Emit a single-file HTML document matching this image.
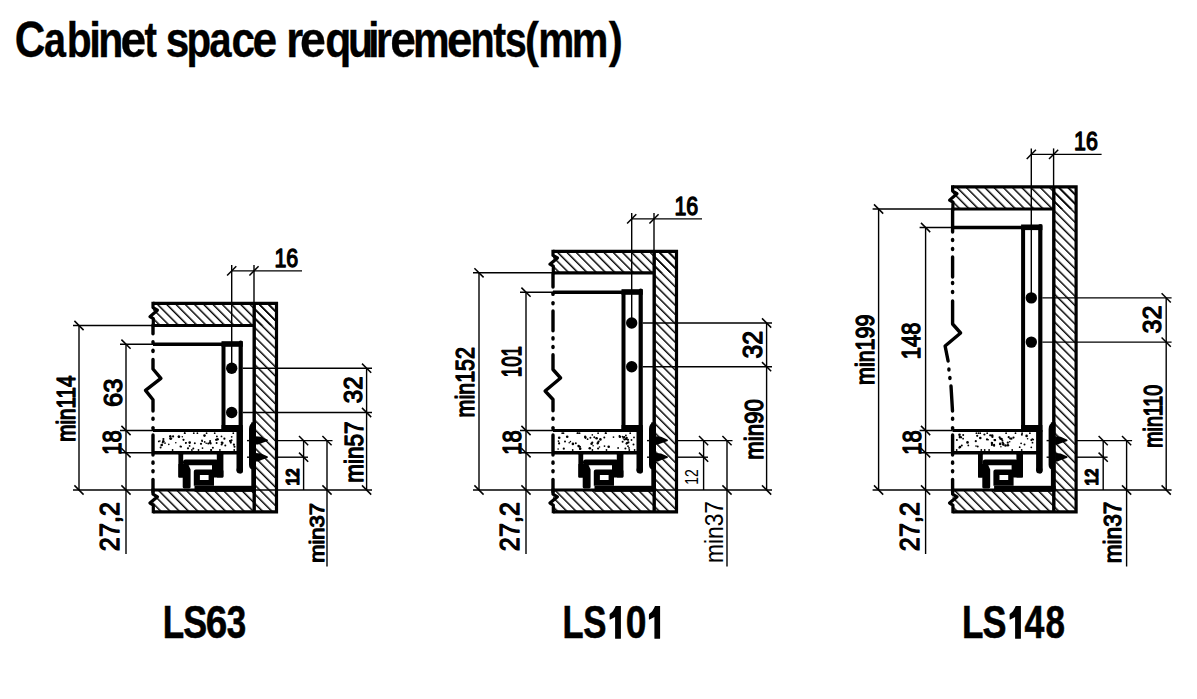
<!DOCTYPE html>
<html><head><meta charset="utf-8"><style>
html,body{margin:0;padding:0;background:#fff;width:1197px;height:699px;overflow:hidden}
svg{display:block}
text{font-family:"Liberation Sans",sans-serif;font-size:100px;fill:#000}
</style></head><body>
<svg width="1197" height="699" viewBox="0 0 1197 699">
<defs>
<pattern id="hatch0" patternUnits="userSpaceOnUse" width="20" height="6.54" patternTransform="translate(0,0) rotate(45)"><rect x="0" y="5.1" width="20" height="1.55" fill="#000"/></pattern><pattern id="hatch1" patternUnits="userSpaceOnUse" width="20" height="6.54" patternTransform="translate(-1.0,0) rotate(45)"><rect x="0" y="5.1" width="20" height="1.55" fill="#000"/></pattern><pattern id="hatch2" patternUnits="userSpaceOnUse" width="20" height="6.54" patternTransform="translate(0.8,0) rotate(45)"><rect x="0" y="5.1" width="20" height="1.55" fill="#000"/></pattern>
</defs>
<rect width="1197" height="699" fill="#fff"/>
<g stroke="#000" fill="#000">
<rect x="153" y="303.3" width="123.5" height="22.19999999999999" fill="url(#hatch0)" stroke="none"/>
<rect x="254.2" y="303.3" width="22.30000000000001" height="208.5" fill="url(#hatch0)" stroke="none"/>
<rect x="153" y="490" width="101.19999999999999" height="21.8" fill="url(#hatch0)" stroke="none"/>
<path d="M153 303.3 H276.5 V511.8 H153" fill="none" stroke-width="3.2" stroke-linecap="butt" stroke-linejoin="miter"/>
<line x1="254.2" y1="303.3" x2="254.2" y2="511.8" stroke-width="3.4" stroke-linecap="butt"/>
<line x1="153" y1="325.5" x2="254.2" y2="325.5" stroke-width="3.2" stroke-linecap="butt"/>
<line x1="153" y1="490" x2="254.2" y2="490" stroke-width="3.2" stroke-linecap="butt"/>
<path d="M153 301.8 V307.51800000000003 L157.4 310.182 L150.0 316.62 L153.3 318.618 V327.0" fill="none" stroke-width="3.2" stroke-linecap="butt" stroke-linejoin="round"/>
<path d="M153 488.5 V494.142 L157.4 496.758 L150.0 503.08 L153.3 505.04200000000003 V513.3" fill="none" stroke-width="3.2" stroke-linecap="butt" stroke-linejoin="round"/>
<path d="M153 325 V333.7" fill="none" stroke-width="3.4" stroke-linecap="round" stroke-linejoin="miter"/>
<path d="M153 359.5 V369 L160.9 378.4 L145.5 390.4 L153 399.8 V411" fill="none" stroke-width="3.4" stroke-linecap="round" stroke-linejoin="round"/>
<path d="M153 435 V455" fill="none" stroke-width="3.4" stroke-linecap="round" stroke-linejoin="miter"/>
<path d="M153 479.4 V492" fill="none" stroke-width="3.4" stroke-linecap="round" stroke-linejoin="miter"/>
<path d="M153 341.7 V342.90000000000003" fill="none" stroke-width="3.4" stroke-linecap="round" stroke-linejoin="miter"/>
<path d="M153 350.29999999999995 V351.5" fill="none" stroke-width="3.4" stroke-linecap="round" stroke-linejoin="miter"/>
<path d="M153 418.09999999999997 V419.3" fill="none" stroke-width="3.4" stroke-linecap="round" stroke-linejoin="miter"/>
<path d="M153 427.59999999999997 V428.8" fill="none" stroke-width="3.4" stroke-linecap="round" stroke-linejoin="miter"/>
<path d="M153 462.0 V463.20000000000005" fill="none" stroke-width="3.4" stroke-linecap="round" stroke-linejoin="miter"/>
<path d="M153 470.59999999999997 V471.8" fill="none" stroke-width="3.4" stroke-linecap="round" stroke-linejoin="miter"/>
<line x1="153" y1="344.2" x2="223.5" y2="344.2" stroke-width="3.4" stroke-linecap="butt"/>
<line x1="223.5" y1="342.7" x2="223.5" y2="431" stroke-width="4" stroke-linecap="butt"/>
<path d="M240.7 342.7 V471.5" fill="none" stroke-width="4.2" stroke-linecap="round" stroke-linejoin="miter"/>
<rect x="221.5" y="341.2" width="21.29999999999999" height="5.6" fill="#000" stroke="none"/>
<rect x="221.5" y="425" width="21.29999999999999" height="7" fill="#000" stroke="none"/>
<circle cx="231.7" cy="368.2" r="5.7" stroke="none"/>
<circle cx="231.7" cy="412.5" r="5.7" stroke="none"/>
<line x1="153" y1="430.5" x2="240.7" y2="430.5" stroke-width="3.2" stroke-linecap="butt"/>
<line x1="153" y1="452.8" x2="240.7" y2="452.8" stroke-width="3.4" stroke-linecap="butt"/>
<rect x="236.5" y="430" width="6.4" height="40.5" fill="#000" stroke="none"/>
<circle cx="239.7" cy="470.3" r="3.2" stroke="none"/>
<rect x="178.4" y="453" width="4.8" height="24.6" rx="1.2" stroke="none"/>
<path stroke="none" d="M178.4 464 H188.1 L190.6 469.5 V487 Q190.6 488.4 189.2 488.4 H184.1 Q182.7 488.4 182.7 487 V477.6 H179.6 Q178.4 477.6 178.4 476.4 Z"/>
<rect x="216.8" y="453" width="6.6" height="24.6" rx="1.2" stroke="none"/>
<rect x="212.7" y="469.5" width="10.7" height="8.1" rx="1.5" stroke="none"/>
<rect x="183.0" y="459.4" width="35.5" height="5.8" rx="2.5" stroke="none"/>
<rect x="212.0" y="463.0" width="6.5" height="8.0" rx="0" stroke="none"/>
<path fill-rule="evenodd" stroke="none" d="M193.8 471.5 Q193.8 469.5 195.8 469.5 H212 Q214 469.5 214 471.5 V485.7 H193.8 Z M199.9 474.9 V480 H208.6 V474.9 Z"/>
<rect x="194.5" y="485.8" width="61.5" height="6.0" fill="#000" stroke="none"/>
<rect x="251.3" y="422.3" width="4.7" height="68" fill="#000" stroke="none"/>
<path d="M254 422.3 Q249 423.5 249 429 V465 Q249 469.5 254 469.8 Z" stroke="none"/>
<path d="M255.5 436.2 L261 436.79999999999995 L267.8 439.79999999999995 L267.8 441.0 L262 443.0 L258 444.59999999999997 L255.5 444.59999999999997 Z" stroke="none"/>
<path d="M255.5 453.0 L261 453.59999999999997 L267.8 456.59999999999997 L267.8 457.8 L262 459.8 L258 461.4 L255.5 461.4 Z" stroke="none"/>
<line x1="231.7" y1="264.90000000000003" x2="231.7" y2="368.2" stroke-width="1.4" stroke-linecap="butt"/>
<line x1="254.0" y1="264.90000000000003" x2="254.0" y2="303.3" stroke-width="1.4" stroke-linecap="butt"/>
<line x1="231.7" y1="270.90000000000003" x2="302" y2="270.90000000000003" stroke-width="1.4" stroke-linecap="butt"/>
<line x1="227.1" y1="275.50000000000006" x2="236.29999999999998" y2="266.3" stroke-width="1.5" stroke-linecap="butt"/>
<line x1="249.4" y1="275.50000000000006" x2="258.6" y2="266.3" stroke-width="1.5" stroke-linecap="butt"/>
<line x1="73" y1="325.5" x2="153" y2="325.5" stroke-width="1.4" stroke-linecap="butt"/>
<line x1="120" y1="344.2" x2="153" y2="344.2" stroke-width="1.4" stroke-linecap="butt"/>
<line x1="120" y1="430.5" x2="153" y2="430.5" stroke-width="1.4" stroke-linecap="butt"/>
<line x1="120" y1="452.8" x2="153" y2="452.8" stroke-width="1.4" stroke-linecap="butt"/>
<line x1="73" y1="490" x2="153" y2="490" stroke-width="1.4" stroke-linecap="butt"/>
<line x1="79" y1="325.5" x2="79" y2="490" stroke-width="1.4" stroke-linecap="butt"/>
<line x1="126" y1="344.2" x2="126" y2="554" stroke-width="1.4" stroke-linecap="butt"/>
<line x1="74.4" y1="320.9" x2="83.6" y2="330.1" stroke-width="1.5" stroke-linecap="butt"/>
<line x1="74.4" y1="485.4" x2="83.6" y2="494.6" stroke-width="1.5" stroke-linecap="butt"/>
<line x1="121.4" y1="339.59999999999997" x2="130.6" y2="348.8" stroke-width="1.5" stroke-linecap="butt"/>
<line x1="121.4" y1="425.9" x2="130.6" y2="435.1" stroke-width="1.5" stroke-linecap="butt"/>
<line x1="121.4" y1="448.2" x2="130.6" y2="457.40000000000003" stroke-width="1.5" stroke-linecap="butt"/>
<line x1="121.4" y1="485.4" x2="130.6" y2="494.6" stroke-width="1.5" stroke-linecap="butt"/>
<line x1="242.7" y1="368.2" x2="372" y2="368.2" stroke-width="1.4" stroke-linecap="butt"/>
<line x1="362.0" y1="363.59999999999997" x2="371.20000000000005" y2="372.8" stroke-width="1.5" stroke-linecap="butt"/>
<line x1="242.7" y1="412.5" x2="372" y2="412.5" stroke-width="1.4" stroke-linecap="butt"/>
<line x1="362.0" y1="407.9" x2="371.20000000000005" y2="417.1" stroke-width="1.5" stroke-linecap="butt"/>
<line x1="366.6" y1="368.2" x2="366.6" y2="490" stroke-width="1.4" stroke-linecap="butt"/>
<line x1="362.0" y1="485.4" x2="371.20000000000005" y2="494.6" stroke-width="1.5" stroke-linecap="butt"/>
<line x1="247" y1="440.6" x2="256" y2="440.6" stroke-width="1.4" stroke-linecap="butt"/>
<line x1="247" y1="457.2" x2="256" y2="457.2" stroke-width="1.4" stroke-linecap="butt"/>
<line x1="276.5" y1="440.6" x2="332.5" y2="440.6" stroke-width="1.4" stroke-linecap="butt"/>
<line x1="276.5" y1="457.2" x2="308" y2="457.2" stroke-width="1.4" stroke-linecap="butt"/>
<line x1="254.2" y1="490" x2="372" y2="490" stroke-width="1.4" stroke-linecap="butt"/>
<line x1="303.6" y1="440.6" x2="303.6" y2="490" stroke-width="1.4" stroke-linecap="butt"/>
<line x1="327" y1="440.6" x2="327" y2="566.5" stroke-width="1.4" stroke-linecap="butt"/>
<line x1="299.0" y1="436.0" x2="308.20000000000005" y2="445.20000000000005" stroke-width="1.5" stroke-linecap="butt"/>
<line x1="299.0" y1="452.59999999999997" x2="308.20000000000005" y2="461.8" stroke-width="1.5" stroke-linecap="butt"/>
<line x1="322.4" y1="436.0" x2="331.6" y2="445.20000000000005" stroke-width="1.5" stroke-linecap="butt"/>
<line x1="322.4" y1="485.4" x2="331.6" y2="494.6" stroke-width="1.5" stroke-linecap="butt"/>
<rect x="553" y="251.3" width="123.5" height="21.5" fill="url(#hatch1)" stroke="none"/>
<rect x="654.2" y="251.3" width="22.299999999999955" height="260.5" fill="url(#hatch1)" stroke="none"/>
<rect x="553" y="490" width="101.20000000000005" height="21.8" fill="url(#hatch1)" stroke="none"/>
<path d="M553 251.3 H676.5 V511.8 H553" fill="none" stroke-width="3.2" stroke-linecap="butt" stroke-linejoin="miter"/>
<line x1="654.2" y1="251.3" x2="654.2" y2="511.8" stroke-width="3.4" stroke-linecap="butt"/>
<line x1="553" y1="272.8" x2="654.2" y2="272.8" stroke-width="3.2" stroke-linecap="butt"/>
<line x1="553" y1="490" x2="654.2" y2="490" stroke-width="3.2" stroke-linecap="butt"/>
<path d="M553 249.8 V255.38500000000002 L557.4 257.96500000000003 L550.0 264.2 L553.3 266.135 V274.3" fill="none" stroke-width="3.2" stroke-linecap="butt" stroke-linejoin="round"/>
<path d="M553 488.5 V494.142 L557.4 496.758 L550.0 503.08 L553.3 505.04200000000003 V513.3" fill="none" stroke-width="3.2" stroke-linecap="butt" stroke-linejoin="round"/>
<path d="M553 274 V287" fill="none" stroke-width="3.4" stroke-linecap="round" stroke-linejoin="miter"/>
<path d="M553 311 V330.7" fill="none" stroke-width="3.4" stroke-linecap="round" stroke-linejoin="miter"/>
<path d="M553 354.7 V369.5 L560.6 378 L545.1 391 L553 399.5 V410.7" fill="none" stroke-width="3.4" stroke-linecap="round" stroke-linejoin="round"/>
<path d="M553 435 V455" fill="none" stroke-width="3.4" stroke-linecap="round" stroke-linejoin="miter"/>
<path d="M553 479.4 V492" fill="none" stroke-width="3.4" stroke-linecap="round" stroke-linejoin="miter"/>
<path d="M553 293.2 V294.40000000000003" fill="none" stroke-width="3.4" stroke-linecap="round" stroke-linejoin="miter"/>
<path d="M553 302.59999999999997 V303.8" fill="none" stroke-width="3.4" stroke-linecap="round" stroke-linejoin="miter"/>
<path d="M553 337.79999999999995 V339.0" fill="none" stroke-width="3.4" stroke-linecap="round" stroke-linejoin="miter"/>
<path d="M553 346.4 V347.6" fill="none" stroke-width="3.4" stroke-linecap="round" stroke-linejoin="miter"/>
<path d="M553 418.09999999999997 V419.3" fill="none" stroke-width="3.4" stroke-linecap="round" stroke-linejoin="miter"/>
<path d="M553 427.59999999999997 V428.8" fill="none" stroke-width="3.4" stroke-linecap="round" stroke-linejoin="miter"/>
<path d="M553 462.0 V463.20000000000005" fill="none" stroke-width="3.4" stroke-linecap="round" stroke-linejoin="miter"/>
<path d="M553 470.59999999999997 V471.8" fill="none" stroke-width="3.4" stroke-linecap="round" stroke-linejoin="miter"/>
<line x1="553" y1="292.2" x2="623.5" y2="292.2" stroke-width="3.4" stroke-linecap="butt"/>
<line x1="623.5" y1="290.7" x2="623.5" y2="431" stroke-width="4" stroke-linecap="butt"/>
<path d="M640.7 290.7 V471.5" fill="none" stroke-width="4.2" stroke-linecap="round" stroke-linejoin="miter"/>
<rect x="621.5" y="289.2" width="21.300000000000047" height="5.6" fill="#000" stroke="none"/>
<rect x="621.5" y="425" width="21.300000000000047" height="7" fill="#000" stroke="none"/>
<circle cx="631.7" cy="323" r="5.7" stroke="none"/>
<circle cx="631.7" cy="366.7" r="5.7" stroke="none"/>
<line x1="553" y1="430.5" x2="640.7" y2="430.5" stroke-width="3.2" stroke-linecap="butt"/>
<line x1="553" y1="452.8" x2="640.7" y2="452.8" stroke-width="3.4" stroke-linecap="butt"/>
<rect x="636.5" y="430" width="6.4" height="40.5" fill="#000" stroke="none"/>
<circle cx="639.7" cy="470.3" r="3.2" stroke="none"/>
<rect x="578.4" y="453" width="4.8" height="24.6" rx="1.2" stroke="none"/>
<path stroke="none" d="M578.4 464 H588.1 L590.6 469.5 V487 Q590.6 488.4 589.2 488.4 H584.1 Q582.7 488.4 582.7 487 V477.6 H579.6 Q578.4 477.6 578.4 476.4 Z"/>
<rect x="616.8" y="453" width="6.6" height="24.6" rx="1.2" stroke="none"/>
<rect x="612.7" y="469.5" width="10.7" height="8.1" rx="1.5" stroke="none"/>
<rect x="583.0" y="459.4" width="35.5" height="5.8" rx="2.5" stroke="none"/>
<rect x="612.0" y="463.0" width="6.5" height="8.0" rx="0" stroke="none"/>
<path fill-rule="evenodd" stroke="none" d="M593.8 471.5 Q593.8 469.5 595.8 469.5 H612 Q614 469.5 614 471.5 V485.7 H593.8 Z M599.9 474.9 V480 H608.6 V474.9 Z"/>
<rect x="594.5" y="485.8" width="61.5" height="6.0" fill="#000" stroke="none"/>
<rect x="651.3" y="422.3" width="4.7" height="68" fill="#000" stroke="none"/>
<path d="M654 422.3 Q649 423.5 649 429 V465 Q649 469.5 654 469.8 Z" stroke="none"/>
<path d="M655.5 436.2 L661 436.79999999999995 L667.8 439.79999999999995 L667.8 441.0 L662 443.0 L658 444.59999999999997 L655.5 444.59999999999997 Z" stroke="none"/>
<path d="M655.5 453.0 L661 453.59999999999997 L667.8 456.59999999999997 L667.8 457.8 L662 459.8 L658 461.4 L655.5 461.4 Z" stroke="none"/>
<line x1="631.7" y1="212.9" x2="631.7" y2="323" stroke-width="1.4" stroke-linecap="butt"/>
<line x1="654.0" y1="212.9" x2="654.0" y2="251.3" stroke-width="1.4" stroke-linecap="butt"/>
<line x1="631.7" y1="218.9" x2="702" y2="218.9" stroke-width="1.4" stroke-linecap="butt"/>
<line x1="627.1" y1="223.5" x2="636.3000000000001" y2="214.3" stroke-width="1.5" stroke-linecap="butt"/>
<line x1="649.4" y1="223.5" x2="658.6" y2="214.3" stroke-width="1.5" stroke-linecap="butt"/>
<line x1="473" y1="272.8" x2="553" y2="272.8" stroke-width="1.4" stroke-linecap="butt"/>
<line x1="520" y1="292.2" x2="553" y2="292.2" stroke-width="1.4" stroke-linecap="butt"/>
<line x1="520" y1="430.5" x2="553" y2="430.5" stroke-width="1.4" stroke-linecap="butt"/>
<line x1="520" y1="452.8" x2="553" y2="452.8" stroke-width="1.4" stroke-linecap="butt"/>
<line x1="473" y1="490" x2="553" y2="490" stroke-width="1.4" stroke-linecap="butt"/>
<line x1="479" y1="272.8" x2="479" y2="490" stroke-width="1.4" stroke-linecap="butt"/>
<line x1="526" y1="292.2" x2="526" y2="554" stroke-width="1.4" stroke-linecap="butt"/>
<line x1="474.4" y1="268.2" x2="483.6" y2="277.40000000000003" stroke-width="1.5" stroke-linecap="butt"/>
<line x1="474.4" y1="485.4" x2="483.6" y2="494.6" stroke-width="1.5" stroke-linecap="butt"/>
<line x1="521.4" y1="287.59999999999997" x2="530.6" y2="296.8" stroke-width="1.5" stroke-linecap="butt"/>
<line x1="521.4" y1="425.9" x2="530.6" y2="435.1" stroke-width="1.5" stroke-linecap="butt"/>
<line x1="521.4" y1="448.2" x2="530.6" y2="457.40000000000003" stroke-width="1.5" stroke-linecap="butt"/>
<line x1="521.4" y1="485.4" x2="530.6" y2="494.6" stroke-width="1.5" stroke-linecap="butt"/>
<line x1="642.7" y1="323" x2="772" y2="323" stroke-width="1.4" stroke-linecap="butt"/>
<line x1="762.0" y1="318.4" x2="771.2" y2="327.6" stroke-width="1.5" stroke-linecap="butt"/>
<line x1="642.7" y1="366.7" x2="772" y2="366.7" stroke-width="1.4" stroke-linecap="butt"/>
<line x1="762.0" y1="362.09999999999997" x2="771.2" y2="371.3" stroke-width="1.5" stroke-linecap="butt"/>
<line x1="766.6" y1="323" x2="766.6" y2="490" stroke-width="1.4" stroke-linecap="butt"/>
<line x1="762.0" y1="485.4" x2="771.2" y2="494.6" stroke-width="1.5" stroke-linecap="butt"/>
<line x1="647" y1="440.6" x2="656" y2="440.6" stroke-width="1.4" stroke-linecap="butt"/>
<line x1="647" y1="457.2" x2="656" y2="457.2" stroke-width="1.4" stroke-linecap="butt"/>
<line x1="676.5" y1="440.6" x2="732.5" y2="440.6" stroke-width="1.4" stroke-linecap="butt"/>
<line x1="676.5" y1="457.2" x2="708" y2="457.2" stroke-width="1.4" stroke-linecap="butt"/>
<line x1="654.2" y1="490" x2="772" y2="490" stroke-width="1.4" stroke-linecap="butt"/>
<line x1="703.6" y1="440.6" x2="703.6" y2="490" stroke-width="1.4" stroke-linecap="butt"/>
<line x1="727" y1="440.6" x2="727" y2="566.5" stroke-width="1.4" stroke-linecap="butt"/>
<line x1="699.0" y1="436.0" x2="708.2" y2="445.20000000000005" stroke-width="1.5" stroke-linecap="butt"/>
<line x1="699.0" y1="452.59999999999997" x2="708.2" y2="461.8" stroke-width="1.5" stroke-linecap="butt"/>
<line x1="722.4" y1="436.0" x2="731.6" y2="445.20000000000005" stroke-width="1.5" stroke-linecap="butt"/>
<line x1="722.4" y1="485.4" x2="731.6" y2="494.6" stroke-width="1.5" stroke-linecap="butt"/>
<rect x="952.6" y="186.8" width="123.49999999999989" height="22.19999999999999" fill="url(#hatch2)" stroke="none"/>
<rect x="1053.8" y="186.8" width="22.299999999999955" height="325.0" fill="url(#hatch2)" stroke="none"/>
<rect x="952.6" y="490" width="101.19999999999993" height="21.8" fill="url(#hatch2)" stroke="none"/>
<path d="M952.6 186.8 H1076.1 V511.8 H952.6" fill="none" stroke-width="3.2" stroke-linecap="butt" stroke-linejoin="miter"/>
<line x1="1053.8" y1="186.8" x2="1053.8" y2="511.8" stroke-width="3.4" stroke-linecap="butt"/>
<line x1="952.6" y1="209" x2="1053.8" y2="209" stroke-width="3.2" stroke-linecap="butt"/>
<line x1="952.6" y1="490" x2="1053.8" y2="490" stroke-width="3.2" stroke-linecap="butt"/>
<path d="M952.6 185.3 V191.018 L957.0 193.68200000000002 L949.6 200.12 L952.9 202.118 V210.5" fill="none" stroke-width="3.2" stroke-linecap="butt" stroke-linejoin="round"/>
<path d="M952.6 488.5 V494.142 L957.0 496.758 L949.6 503.08 L952.9 505.04200000000003 V513.3" fill="none" stroke-width="3.2" stroke-linecap="butt" stroke-linejoin="round"/>
<path d="M952.6 209 V232" fill="none" stroke-width="3.4" stroke-linecap="round" stroke-linejoin="miter"/>
<path d="M952.6 257 V277" fill="none" stroke-width="3.4" stroke-linecap="round" stroke-linejoin="miter"/>
<path d="M952.6 301 V324 L960.6 333 L945.1 346 L948.1 361" fill="none" stroke-width="3.4" stroke-linecap="round" stroke-linejoin="round"/>
<path d="M951 386 L952.5 411" fill="none" stroke-width="3.4" stroke-linecap="round" stroke-linejoin="round"/>
<path d="M952.6 435 V455" fill="none" stroke-width="3.4" stroke-linecap="round" stroke-linejoin="miter"/>
<path d="M952.6 479.4 V492" fill="none" stroke-width="3.4" stroke-linecap="round" stroke-linejoin="miter"/>
<path d="M952.6 239.4 V240.6" fill="none" stroke-width="3.4" stroke-linecap="round" stroke-linejoin="miter"/>
<path d="M952.6 248.4 V249.6" fill="none" stroke-width="3.4" stroke-linecap="round" stroke-linejoin="miter"/>
<path d="M952.6 282.4 V283.6" fill="none" stroke-width="3.4" stroke-linecap="round" stroke-linejoin="miter"/>
<path d="M952.6 291.4 V292.6" fill="none" stroke-width="3.4" stroke-linecap="round" stroke-linejoin="miter"/>
<path d="M948.9 368.9 V370.1" fill="none" stroke-width="3.4" stroke-linecap="round" stroke-linejoin="miter"/>
<path d="M949.9 377.4 V378.6" fill="none" stroke-width="3.4" stroke-linecap="round" stroke-linejoin="miter"/>
<path d="M952.6 418.09999999999997 V419.3" fill="none" stroke-width="3.4" stroke-linecap="round" stroke-linejoin="miter"/>
<path d="M952.6 427.59999999999997 V428.8" fill="none" stroke-width="3.4" stroke-linecap="round" stroke-linejoin="miter"/>
<path d="M952.6 462.0 V463.20000000000005" fill="none" stroke-width="3.4" stroke-linecap="round" stroke-linejoin="miter"/>
<path d="M952.6 470.59999999999997 V471.8" fill="none" stroke-width="3.4" stroke-linecap="round" stroke-linejoin="miter"/>
<line x1="952.6" y1="227.5" x2="1023.1" y2="227.5" stroke-width="3.4" stroke-linecap="butt"/>
<line x1="1023.1" y1="226.0" x2="1023.1" y2="431" stroke-width="4" stroke-linecap="butt"/>
<path d="M1040.3 226.0 V471.5" fill="none" stroke-width="4.2" stroke-linecap="round" stroke-linejoin="miter"/>
<rect x="1021.1" y="224.5" width="21.299999999999933" height="5.6" fill="#000" stroke="none"/>
<rect x="1021.1" y="425" width="21.299999999999933" height="7" fill="#000" stroke="none"/>
<circle cx="1031.3" cy="297.9" r="5.7" stroke="none"/>
<circle cx="1031.3" cy="342.1" r="5.7" stroke="none"/>
<line x1="952.6" y1="430.5" x2="1040.3" y2="430.5" stroke-width="3.2" stroke-linecap="butt"/>
<line x1="952.6" y1="452.8" x2="1040.3" y2="452.8" stroke-width="3.4" stroke-linecap="butt"/>
<rect x="1036.1" y="430" width="6.4" height="40.5" fill="#000" stroke="none"/>
<circle cx="1039.3" cy="470.3" r="3.2" stroke="none"/>
<rect x="978.0" y="453" width="4.8" height="24.6" rx="1.2" stroke="none"/>
<path stroke="none" d="M978.0 464 H987.7 L990.2 469.5 V487 Q990.2 488.4 988.8 488.4 H983.7 Q982.3 488.4 982.3 487 V477.6 H979.2 Q978.0 477.6 978.0 476.4 Z"/>
<rect x="1016.4" y="453" width="6.6" height="24.6" rx="1.2" stroke="none"/>
<rect x="1012.3" y="469.5" width="10.7" height="8.1" rx="1.5" stroke="none"/>
<rect x="982.6" y="459.4" width="35.5" height="5.8" rx="2.5" stroke="none"/>
<rect x="1011.6" y="463.0" width="6.5" height="8.0" rx="0" stroke="none"/>
<path fill-rule="evenodd" stroke="none" d="M993.4 471.5 Q993.4 469.5 995.4 469.5 H1011.6 Q1013.6 469.5 1013.6 471.5 V485.7 H993.4 Z M999.5 474.9 V480 H1008.2 V474.9 Z"/>
<rect x="994.1" y="485.8" width="61.499999999999886" height="6.0" fill="#000" stroke="none"/>
<rect x="1050.9" y="422.3" width="4.7" height="68" fill="#000" stroke="none"/>
<path d="M1053.6 422.3 Q1048.6 423.5 1048.6 429 V465 Q1048.6 469.5 1053.6 469.8 Z" stroke="none"/>
<path d="M1055.1 436.2 L1060.6 436.79999999999995 L1067.4 439.79999999999995 L1067.4 441.0 L1061.6 443.0 L1057.6 444.59999999999997 L1055.1 444.59999999999997 Z" stroke="none"/>
<path d="M1055.1 453.0 L1060.6 453.59999999999997 L1067.4 456.59999999999997 L1067.4 457.8 L1061.6 459.8 L1057.6 461.4 L1055.1 461.4 Z" stroke="none"/>
<line x1="1031.3" y1="148.4" x2="1031.3" y2="297.9" stroke-width="1.4" stroke-linecap="butt"/>
<line x1="1053.6" y1="148.4" x2="1053.6" y2="186.8" stroke-width="1.4" stroke-linecap="butt"/>
<line x1="1031.3" y1="154.4" x2="1101.6" y2="154.4" stroke-width="1.4" stroke-linecap="butt"/>
<line x1="1026.7" y1="159.0" x2="1035.8999999999999" y2="149.8" stroke-width="1.5" stroke-linecap="butt"/>
<line x1="1049.0" y1="159.0" x2="1058.1999999999998" y2="149.8" stroke-width="1.5" stroke-linecap="butt"/>
<line x1="872.6" y1="209" x2="952.6" y2="209" stroke-width="1.4" stroke-linecap="butt"/>
<line x1="919.6" y1="227.5" x2="952.6" y2="227.5" stroke-width="1.4" stroke-linecap="butt"/>
<line x1="919.6" y1="430.5" x2="952.6" y2="430.5" stroke-width="1.4" stroke-linecap="butt"/>
<line x1="919.6" y1="452.8" x2="952.6" y2="452.8" stroke-width="1.4" stroke-linecap="butt"/>
<line x1="872.6" y1="490" x2="952.6" y2="490" stroke-width="1.4" stroke-linecap="butt"/>
<line x1="878.6" y1="209" x2="878.6" y2="490" stroke-width="1.4" stroke-linecap="butt"/>
<line x1="925.6" y1="227.5" x2="925.6" y2="554" stroke-width="1.4" stroke-linecap="butt"/>
<line x1="874.0" y1="204.4" x2="883.2" y2="213.6" stroke-width="1.5" stroke-linecap="butt"/>
<line x1="874.0" y1="485.4" x2="883.2" y2="494.6" stroke-width="1.5" stroke-linecap="butt"/>
<line x1="921.0" y1="222.9" x2="930.2" y2="232.1" stroke-width="1.5" stroke-linecap="butt"/>
<line x1="921.0" y1="425.9" x2="930.2" y2="435.1" stroke-width="1.5" stroke-linecap="butt"/>
<line x1="921.0" y1="448.2" x2="930.2" y2="457.40000000000003" stroke-width="1.5" stroke-linecap="butt"/>
<line x1="921.0" y1="485.4" x2="930.2" y2="494.6" stroke-width="1.5" stroke-linecap="butt"/>
<line x1="1042.3" y1="297.9" x2="1171.6" y2="297.9" stroke-width="1.4" stroke-linecap="butt"/>
<line x1="1161.6000000000001" y1="293.29999999999995" x2="1170.8" y2="302.5" stroke-width="1.5" stroke-linecap="butt"/>
<line x1="1042.3" y1="342.1" x2="1171.6" y2="342.1" stroke-width="1.4" stroke-linecap="butt"/>
<line x1="1161.6000000000001" y1="337.5" x2="1170.8" y2="346.70000000000005" stroke-width="1.5" stroke-linecap="butt"/>
<line x1="1166.2" y1="297.9" x2="1166.2" y2="490" stroke-width="1.4" stroke-linecap="butt"/>
<line x1="1161.6000000000001" y1="485.4" x2="1170.8" y2="494.6" stroke-width="1.5" stroke-linecap="butt"/>
<line x1="1046.6" y1="440.6" x2="1055.6" y2="440.6" stroke-width="1.4" stroke-linecap="butt"/>
<line x1="1046.6" y1="457.2" x2="1055.6" y2="457.2" stroke-width="1.4" stroke-linecap="butt"/>
<line x1="1076.1" y1="440.6" x2="1132.1" y2="440.6" stroke-width="1.4" stroke-linecap="butt"/>
<line x1="1076.1" y1="457.2" x2="1107.6" y2="457.2" stroke-width="1.4" stroke-linecap="butt"/>
<line x1="1053.8" y1="490" x2="1171.6" y2="490" stroke-width="1.4" stroke-linecap="butt"/>
<line x1="1103.2" y1="440.6" x2="1103.2" y2="490" stroke-width="1.4" stroke-linecap="butt"/>
<line x1="1126.6" y1="440.6" x2="1126.6" y2="566.5" stroke-width="1.4" stroke-linecap="butt"/>
<line x1="1098.6000000000001" y1="436.0" x2="1107.8" y2="445.20000000000005" stroke-width="1.5" stroke-linecap="butt"/>
<line x1="1098.6000000000001" y1="452.59999999999997" x2="1107.8" y2="461.8" stroke-width="1.5" stroke-linecap="butt"/>
<line x1="1122.0" y1="436.0" x2="1131.1999999999998" y2="445.20000000000005" stroke-width="1.5" stroke-linecap="butt"/>
<line x1="1122.0" y1="485.4" x2="1131.1999999999998" y2="494.6" stroke-width="1.5" stroke-linecap="butt"/>
</g>
<g fill="#000"><circle cx="182.3" cy="436.8" r="0.8"/><circle cx="162.7" cy="442.5" r="1.0"/><circle cx="202.5" cy="448.1" r="0.9"/><circle cx="159.9" cy="441.0" r="0.8"/><circle cx="175.8" cy="442.8" r="0.8"/><circle cx="221.5" cy="436.4" r="0.9"/><circle cx="206.2" cy="443.2" r="0.8"/><circle cx="202.0" cy="440.5" r="0.9"/><circle cx="160.6" cy="447.4" r="1.0"/><circle cx="189.7" cy="442.6" r="1.3"/><circle cx="181.1" cy="446.7" r="0.9"/><circle cx="165.0" cy="443.1" r="0.9"/><circle cx="186.0" cy="442.7" r="0.8"/><circle cx="201.0" cy="443.8" r="1.1"/><circle cx="210.1" cy="440.9" r="1.0"/><circle cx="193.3" cy="448.4" r="1.0"/><circle cx="180.4" cy="446.4" r="0.9"/><circle cx="163.4" cy="439.0" r="1.1"/><circle cx="225.3" cy="445.4" r="1.0"/><circle cx="204.5" cy="435.6" r="1.3"/><circle cx="189.6" cy="445.9" r="0.9"/><circle cx="229.8" cy="440.8" r="0.8"/><circle cx="216.6" cy="443.1" r="1.0"/><circle cx="183.5" cy="439.8" r="1.1"/><circle cx="202.2" cy="441.3" r="0.8"/><circle cx="230.7" cy="441.6" r="0.8"/><circle cx="161.7" cy="445.0" r="1.3"/><circle cx="234.5" cy="446.8" r="1.0"/><circle cx="212.9" cy="447.8" r="1.0"/><circle cx="158.8" cy="441.4" r="0.9"/><circle cx="204.7" cy="441.9" r="0.9"/><circle cx="216.9" cy="436.4" r="0.9"/><circle cx="188.0" cy="448.3" r="1.1"/><circle cx="163.3" cy="441.2" r="1.3"/><circle cx="178.7" cy="436.6" r="1.1"/><circle cx="224.4" cy="438.7" r="1.1"/><circle cx="233.9" cy="444.7" r="1.1"/><circle cx="231.7" cy="436.8" r="0.9"/><circle cx="168.8" cy="444.4" r="0.8"/><circle cx="194.8" cy="443.3" r="1.0"/><circle cx="179.0" cy="436.7" r="1.3"/><circle cx="185.8" cy="443.0" r="0.9"/><circle cx="210.1" cy="442.7" r="1.1"/><circle cx="208.3" cy="443.5" r="1.1"/><circle cx="210.6" cy="443.4" r="1.1"/><circle cx="217.1" cy="439.4" r="1.1"/><circle cx="217.9" cy="439.3" r="1.1"/><circle cx="216.1" cy="439.8" r="1.1"/><circle cx="170.3" cy="438.5" r="1.1"/><circle cx="170.6" cy="438.8" r="1.1"/><circle cx="171.2" cy="438.6" r="1.1"/><circle cx="221.8" cy="442.6" r="1.1"/><circle cx="222.5" cy="442.9" r="1.1"/><circle cx="221.7" cy="444.5" r="1.1"/><circle cx="231.5" cy="440.3" r="1.1"/><circle cx="230.2" cy="441.1" r="1.1"/><circle cx="230.8" cy="442.6" r="1.1"/><circle cx="173.1" cy="436.4" r="1.1"/><circle cx="170.5" cy="436.4" r="1.1"/><circle cx="170.1" cy="436.4" r="1.1"/><circle cx="233.3" cy="433.2" r="0.9"/><circle cx="211.3" cy="450.0" r="0.9"/><circle cx="197.4" cy="433.2" r="0.9"/><circle cx="184.7" cy="433.2" r="0.9"/><circle cx="198.5" cy="450.0" r="0.9"/><circle cx="206.6" cy="433.2" r="0.9"/><circle cx="219.9" cy="450.0" r="0.9"/><circle cx="214.7" cy="433.2" r="0.9"/><circle cx="172.6" cy="450.0" r="0.9"/><circle cx="184.7" cy="433.2" r="0.9"/><circle cx="234.2" cy="450.0" r="0.9"/><circle cx="193.8" cy="433.2" r="0.9"/><circle cx="211.0" cy="450.0" r="0.9"/><circle cx="191.9" cy="450.0" r="0.9"/><circle cx="631.5" cy="440.0" r="0.9"/><circle cx="565.0" cy="441.6" r="1.0"/><circle cx="572.9" cy="443.9" r="1.3"/><circle cx="622.6" cy="441.7" r="1.0"/><circle cx="619.4" cy="435.8" r="0.8"/><circle cx="628.0" cy="446.2" r="0.9"/><circle cx="594.3" cy="437.2" r="1.0"/><circle cx="563.8" cy="448.7" r="1.1"/><circle cx="593.1" cy="445.7" r="0.8"/><circle cx="613.5" cy="437.1" r="0.9"/><circle cx="559.1" cy="443.4" r="1.1"/><circle cx="619.9" cy="436.7" r="1.3"/><circle cx="633.5" cy="444.4" r="1.0"/><circle cx="569.2" cy="442.7" r="0.8"/><circle cx="558.1" cy="449.1" r="0.8"/><circle cx="598.1" cy="448.5" r="1.1"/><circle cx="634.0" cy="437.4" r="0.9"/><circle cx="559.2" cy="437.7" r="1.3"/><circle cx="575.8" cy="443.3" r="1.0"/><circle cx="599.5" cy="447.0" r="0.8"/><circle cx="628.0" cy="439.8" r="1.1"/><circle cx="608.7" cy="446.7" r="1.3"/><circle cx="589.8" cy="448.3" r="1.3"/><circle cx="567.2" cy="436.8" r="1.3"/><circle cx="558.5" cy="441.1" r="0.9"/><circle cx="604.5" cy="446.1" r="0.9"/><circle cx="570.4" cy="441.6" r="0.8"/><circle cx="600.4" cy="439.4" r="1.3"/><circle cx="598.4" cy="441.7" r="0.8"/><circle cx="625.9" cy="435.4" r="0.9"/><circle cx="578.6" cy="446.1" r="1.3"/><circle cx="592.3" cy="434.9" r="0.8"/><circle cx="591.6" cy="443.7" r="1.3"/><circle cx="604.3" cy="437.5" r="1.0"/><circle cx="592.3" cy="442.5" r="1.1"/><circle cx="596.6" cy="438.2" r="1.3"/><circle cx="625.4" cy="448.6" r="1.0"/><circle cx="629.0" cy="447.9" r="0.9"/><circle cx="622.5" cy="436.6" r="0.8"/><circle cx="587.6" cy="439.2" r="0.9"/><circle cx="590.4" cy="437.7" r="1.0"/><circle cx="618.1" cy="448.0" r="0.9"/><circle cx="627.2" cy="442.9" r="1.1"/><circle cx="626.5" cy="443.6" r="1.1"/><circle cx="628.4" cy="442.4" r="1.1"/><circle cx="624.3" cy="437.1" r="1.1"/><circle cx="624.4" cy="439.5" r="1.1"/><circle cx="623.4" cy="437.7" r="1.1"/><circle cx="585.2" cy="436.6" r="1.1"/><circle cx="585.5" cy="437.8" r="1.1"/><circle cx="585.3" cy="437.2" r="1.1"/><circle cx="580.0" cy="448.9" r="1.1"/><circle cx="580.4" cy="448.7" r="1.1"/><circle cx="579.9" cy="446.8" r="1.1"/><circle cx="626.0" cy="439.2" r="1.1"/><circle cx="626.3" cy="438.7" r="1.1"/><circle cx="626.7" cy="437.9" r="1.1"/><circle cx="598.6" cy="441.6" r="1.1"/><circle cx="597.9" cy="443.1" r="1.1"/><circle cx="597.6" cy="443.4" r="1.1"/><circle cx="578.0" cy="433.2" r="0.9"/><circle cx="606.5" cy="450.0" r="0.9"/><circle cx="563.5" cy="433.2" r="0.9"/><circle cx="562.2" cy="433.2" r="0.9"/><circle cx="592.4" cy="450.0" r="0.9"/><circle cx="634.6" cy="450.0" r="0.9"/><circle cx="629.3" cy="450.0" r="0.9"/><circle cx="605.5" cy="433.2" r="0.9"/><circle cx="598.1" cy="433.2" r="0.9"/><circle cx="630.2" cy="433.2" r="0.9"/><circle cx="577.4" cy="433.2" r="0.9"/><circle cx="572.7" cy="450.0" r="0.9"/><circle cx="606.0" cy="433.2" r="0.9"/><circle cx="579.6" cy="433.2" r="0.9"/><circle cx="977.7" cy="446.6" r="1.0"/><circle cx="959.5" cy="434.8" r="1.3"/><circle cx="999.6" cy="437.3" r="1.1"/><circle cx="975.8" cy="441.2" r="1.1"/><circle cx="1007.8" cy="442.7" r="1.1"/><circle cx="1032.3" cy="439.1" r="0.9"/><circle cx="1033.2" cy="439.6" r="0.9"/><circle cx="988.2" cy="439.7" r="0.8"/><circle cx="1021.9" cy="434.7" r="1.0"/><circle cx="990.2" cy="435.3" r="1.1"/><circle cx="1024.5" cy="444.6" r="1.0"/><circle cx="1003.3" cy="444.9" r="0.8"/><circle cx="992.4" cy="436.9" r="1.1"/><circle cx="956.9" cy="440.0" r="1.0"/><circle cx="1032.5" cy="442.7" r="0.9"/><circle cx="959.3" cy="447.7" r="0.9"/><circle cx="984.4" cy="434.5" r="1.1"/><circle cx="963.1" cy="438.7" r="0.9"/><circle cx="976.0" cy="446.1" r="0.8"/><circle cx="977.2" cy="435.8" r="1.1"/><circle cx="1002.4" cy="440.4" r="1.0"/><circle cx="980.3" cy="438.0" r="1.3"/><circle cx="1031.3" cy="447.3" r="0.9"/><circle cx="1007.9" cy="445.2" r="1.3"/><circle cx="987.0" cy="439.4" r="1.1"/><circle cx="968.3" cy="445.4" r="0.9"/><circle cx="960.0" cy="447.0" r="1.3"/><circle cx="1005.5" cy="445.5" r="1.3"/><circle cx="967.5" cy="442.4" r="1.3"/><circle cx="1000.9" cy="446.7" r="0.8"/><circle cx="1021.1" cy="443.3" r="0.9"/><circle cx="963.2" cy="435.1" r="1.0"/><circle cx="1031.4" cy="440.1" r="1.1"/><circle cx="1000.2" cy="443.9" r="1.3"/><circle cx="1009.7" cy="441.8" r="0.8"/><circle cx="992.2" cy="435.6" r="1.3"/><circle cx="1026.6" cy="435.9" r="1.3"/><circle cx="961.8" cy="445.6" r="1.0"/><circle cx="1019.7" cy="447.2" r="0.9"/><circle cx="1013.5" cy="437.6" r="1.1"/><circle cx="995.1" cy="440.2" r="1.1"/><circle cx="1027.6" cy="438.8" r="0.8"/><circle cx="1002.7" cy="442.6" r="1.1"/><circle cx="1003.2" cy="444.5" r="1.1"/><circle cx="1003.4" cy="443.9" r="1.1"/><circle cx="959.8" cy="437.3" r="1.1"/><circle cx="961.1" cy="437.3" r="1.1"/><circle cx="959.8" cy="436.8" r="1.1"/><circle cx="991.8" cy="442.9" r="1.1"/><circle cx="992.1" cy="443.1" r="1.1"/><circle cx="994.5" cy="440.1" r="1.1"/><circle cx="994.1" cy="445.7" r="1.1"/><circle cx="991.9" cy="444.9" r="1.1"/><circle cx="994.1" cy="444.9" r="1.1"/><circle cx="1001.5" cy="439.1" r="1.1"/><circle cx="1000.3" cy="438.7" r="1.1"/><circle cx="1001.5" cy="438.9" r="1.1"/><circle cx="1011.5" cy="438.7" r="1.1"/><circle cx="1008.7" cy="437.2" r="1.1"/><circle cx="1010.2" cy="438.6" r="1.1"/><circle cx="980.2" cy="433.2" r="0.9"/><circle cx="989.1" cy="450.0" r="0.9"/><circle cx="981.3" cy="450.0" r="0.9"/><circle cx="956.7" cy="450.0" r="0.9"/><circle cx="1022.1" cy="433.2" r="0.9"/><circle cx="1029.9" cy="433.2" r="0.9"/><circle cx="1012.2" cy="450.0" r="0.9"/><circle cx="976.4" cy="433.2" r="0.9"/><circle cx="987.2" cy="433.2" r="0.9"/><circle cx="984.7" cy="450.0" r="0.9"/><circle cx="1015.5" cy="433.2" r="0.9"/><circle cx="978.5" cy="433.2" r="0.9"/><circle cx="1021.7" cy="450.0" r="0.9"/><circle cx="1006.1" cy="433.2" r="0.9"/></g>
<g><text transform="matrix(0.21364,0,0,0.26127,274.416,266.614)" font-weight="normal" stroke="#000" stroke-width="1.25" vector-effect="non-scaling-stroke" stroke-linejoin="round">16</text>
<text transform="matrix(0,-0.21970,0.26408,0,121.111,454.633)" font-weight="normal" stroke="#000" stroke-width="1.25" vector-effect="non-scaling-stroke" stroke-linejoin="round">18</text>
<text transform="matrix(0,-0.25270,0.27530,0,119.396,551.139)" font-weight="normal" stroke="#000" stroke-width="1.25" vector-effect="non-scaling-stroke" stroke-linejoin="round">27,2</text>
<text transform="matrix(0.21364,0,0,0.26127,674.416,214.614)" font-weight="normal" stroke="#000" stroke-width="1.25" vector-effect="non-scaling-stroke" stroke-linejoin="round">16</text>
<text transform="matrix(0,-0.21970,0.26408,0,521.111,454.633)" font-weight="normal" stroke="#000" stroke-width="1.25" vector-effect="non-scaling-stroke" stroke-linejoin="round">18</text>
<text transform="matrix(0,-0.25270,0.27530,0,519.396,551.139)" font-weight="normal" stroke="#000" stroke-width="1.25" vector-effect="non-scaling-stroke" stroke-linejoin="round">27,2</text>
<text transform="matrix(0.21364,0,0,0.26127,1074.016,150.114)" font-weight="normal" stroke="#000" stroke-width="1.25" vector-effect="non-scaling-stroke" stroke-linejoin="round">16</text>
<text transform="matrix(0,-0.21970,0.26408,0,920.711,454.633)" font-weight="normal" stroke="#000" stroke-width="1.25" vector-effect="non-scaling-stroke" stroke-linejoin="round">18</text>
<text transform="matrix(0,-0.25270,0.27530,0,918.996,551.139)" font-weight="normal" stroke="#000" stroke-width="1.25" vector-effect="non-scaling-stroke" stroke-linejoin="round">27,2</text>
<text transform="matrix(0,-0.20723,0.24863,0,74.675,441.826)" font-weight="normal" stroke="#000" stroke-width="1.25" vector-effect="non-scaling-stroke" stroke-linejoin="round">min114</text>
<text transform="matrix(0,-0.25735,0.25986,0,121.815,407.062)" font-weight="normal" stroke="#000" stroke-width="1.25" vector-effect="non-scaling-stroke" stroke-linejoin="round">63</text>
<text transform="matrix(0,-0.21503,0.26689,0,474.408,417.480)" font-weight="normal" stroke="#000" stroke-width="1.25" vector-effect="non-scaling-stroke" stroke-linejoin="round">min152</text>
<text transform="matrix(0,-0.18734,0.27254,0,521.102,377.274)" font-weight="normal" stroke="#000" stroke-width="1.25" vector-effect="non-scaling-stroke" stroke-linejoin="round">101</text>
<text transform="matrix(0,-0.21472,0.25338,0,874.122,384.978)" font-weight="normal" stroke="#000" stroke-width="1.25" vector-effect="non-scaling-stroke" stroke-linejoin="round">min199</text>
<text transform="matrix(0,-0.21916,0.26549,0,920.210,359.128)" font-weight="normal" stroke="#000" stroke-width="1.25" vector-effect="non-scaling-stroke" stroke-linejoin="round">148</text>
<text transform="matrix(0,-0.24265,0.25845,0,361.717,403.346)" font-weight="normal" stroke="#000" stroke-width="1.25" vector-effect="non-scaling-stroke" stroke-linejoin="round">32</text>
<text transform="matrix(0,-0.24951,0.27254,0,762.302,358.573)" font-weight="normal" stroke="#000" stroke-width="1.25" vector-effect="non-scaling-stroke" stroke-linejoin="round">32</text>
<text transform="matrix(0,-0.25245,0.26408,0,1161.311,333.485)" font-weight="normal" stroke="#000" stroke-width="1.25" vector-effect="non-scaling-stroke" stroke-linejoin="round">32</text>
<text transform="matrix(0,-0.22519,0.25743,0,362.918,482.751)" font-weight="normal" stroke="#000" stroke-width="1.25" vector-effect="non-scaling-stroke" stroke-linejoin="round">min57</text>
<text transform="matrix(0,-0.22203,0.26149,0,762.614,459.629)" font-weight="normal" stroke="#000" stroke-width="1.25" vector-effect="non-scaling-stroke" stroke-linejoin="round">min90</text>
<text transform="matrix(0,-0.19661,0.26014,0,1161.615,447.851)" font-weight="normal" stroke="#000" stroke-width="1.25" vector-effect="non-scaling-stroke" stroke-linejoin="round">min110</text>
<text transform="matrix(0,-0.15446,0.18429,0,298.600,485.527)" font-weight="bold" stroke="#000" stroke-width="1.0" vector-effect="non-scaling-stroke" stroke-linejoin="round">12</text>
<text transform="matrix(0,-0.13980,0.17429,0,697.900,484.818)" font-weight="normal">12</text>
<text transform="matrix(0,-0.15149,0.18143,0,1097.500,485.409)" font-weight="bold" stroke="#000" stroke-width="1.0" vector-effect="non-scaling-stroke" stroke-linejoin="round">12</text>
<text transform="matrix(0,-0.21981,0.19932,0,324.076,562.814)" font-weight="normal" stroke="#000" stroke-width="1.25" vector-effect="non-scaling-stroke" stroke-linejoin="round">min37</text>
<text transform="matrix(0,-0.22808,0.26081,0,722.639,563.097)" font-weight="normal">min37</text>
<text transform="matrix(0,-0.22635,0.23446,0,1121.341,563.259)" font-weight="normal" stroke="#000" stroke-width="1.25" vector-effect="non-scaling-stroke" stroke-linejoin="round">min37</text>
<text transform="matrix(0.35098,0,0,0.4563,162.793,638.1)" font-weight="bold" stroke="#000" stroke-width="0.5" vector-effect="non-scaling-stroke">L</text>
<text transform="matrix(0.35833,0,0,0.4563,183.275,638.1)" font-weight="bold" stroke="#000" stroke-width="0.5" vector-effect="non-scaling-stroke">S</text>
<text transform="matrix(0.38750,0,0,0.4563,205.800,638.1)" font-weight="bold" stroke="#000" stroke-width="0.5" vector-effect="non-scaling-stroke">6</text>
<text transform="matrix(0.35000,0,0,0.4563,226.750,638.1)" font-weight="bold" stroke="#000" stroke-width="0.5" vector-effect="non-scaling-stroke">3</text>
<text transform="matrix(0.34510,0,0,0.4563,562.534,638.1)" font-weight="bold" stroke="#000" stroke-width="0.5" vector-effect="non-scaling-stroke">L</text>
<text transform="matrix(0.34833,0,0,0.4563,583.305,638.1)" font-weight="bold" stroke="#000" stroke-width="0.5" vector-effect="non-scaling-stroke">S</text>
<text transform="matrix(0.37234,0,0,0.4563,625.661,638.1)" font-weight="bold" stroke="#000" stroke-width="0.5" vector-effect="non-scaling-stroke">0</text>
<text transform="matrix(0.35098,0,0,0.4563,961.893,638.1)" font-weight="bold" stroke="#000" stroke-width="0.5" vector-effect="non-scaling-stroke">L</text>
<text transform="matrix(0.36000,0,0,0.4563,982.570,638.1)" font-weight="bold" stroke="#000" stroke-width="0.5" vector-effect="non-scaling-stroke">S</text>
<text transform="matrix(0.35660,0,0,0.4563,1024.437,638.1)" font-weight="bold" stroke="#000" stroke-width="0.5" vector-effect="non-scaling-stroke">4</text>
<text transform="matrix(0.35000,0,0,0.4563,1045.500,638.1)" font-weight="bold" stroke="#000" stroke-width="0.5" vector-effect="non-scaling-stroke">8</text>
<path d="M615.70 606.1 H620.90 V638.3 Q620.90 638.8 620.40 638.8 H615.60 Q615.10 638.8 615.10 638.3 V616.9 L610.30 619.5 Q609.60 619.7 609.60 618.9 V614.7 Q609.60 614.0 610.30 613.6 Q613.60 611.5 615.70 606.1 Z" fill="#000"/>
<path d="M655.00 606.1 H660.10 V638.3 Q660.10 638.8 659.60 638.8 H654.90 Q654.40 638.8 654.40 638.3 V616.9 L649.60 619.5 Q648.90 619.7 648.90 618.9 V614.7 Q648.90 614.0 649.60 613.6 Q652.90 611.5 655.00 606.1 Z" fill="#000"/>
<path d="M1015.70 606.1 H1020.90 V638.3 Q1020.90 638.8 1020.40 638.8 H1015.60 Q1015.10 638.8 1015.10 638.3 V616.9 L1010.30 619.5 Q1009.60 619.7 1009.60 618.9 V614.7 Q1009.60 614.0 1010.30 613.6 Q1013.60 611.5 1015.70 606.1 Z" fill="#000"/>
<text transform="matrix(0.42308,0,0,0.5,14.758,57.2)" font-weight="bold" stroke="#000" stroke-width="0.3" vector-effect="non-scaling-stroke">C</text>
<text transform="matrix(0.39623,0,0,0.5,44.061,57.2)" font-weight="bold" stroke="#000" stroke-width="0.3" vector-effect="non-scaling-stroke">a</text>
<text transform="matrix(0.40800,0,0,0.5,66.794,57.2)" font-weight="bold" stroke="#000" stroke-width="0.3" vector-effect="non-scaling-stroke">b</text>
<text transform="matrix(0.42143,0,0,0.5,89.300,57.2)" font-weight="bold" stroke="#000" stroke-width="0.3" vector-effect="non-scaling-stroke">i</text>
<text transform="matrix(0.41042,0,0,0.5,98.177,57.2)" font-weight="bold" stroke="#000" stroke-width="0.3" vector-effect="non-scaling-stroke">n</text>
<text transform="matrix(0.46250,0,0,0.5,120.500,57.2)" font-weight="bold" stroke="#000" stroke-width="0.3" vector-effect="non-scaling-stroke">e</text>
<text transform="matrix(0.37419,0,0,0.5,144.476,57.2)" font-weight="bold" stroke="#000" stroke-width="0.3" vector-effect="non-scaling-stroke">t</text>
<text transform="matrix(0.42340,0,0,0.5,165.756,57.2)" font-weight="bold" stroke="#000" stroke-width="0.3" vector-effect="non-scaling-stroke">s</text>
<text transform="matrix(0.40400,0,0,0.5,186.522,57.2)" font-weight="bold" stroke="#000" stroke-width="0.3" vector-effect="non-scaling-stroke">p</text>
<text transform="matrix(0.40189,0,0,0.5,209.244,57.2)" font-weight="bold" stroke="#000" stroke-width="0.3" vector-effect="non-scaling-stroke">a</text>
<text transform="matrix(0.42449,0,0,0.5,231.552,57.2)" font-weight="bold" stroke="#000" stroke-width="0.3" vector-effect="non-scaling-stroke">c</text>
<text transform="matrix(0.44375,0,0,0.5,252.575,57.2)" font-weight="bold" stroke="#000" stroke-width="0.3" vector-effect="non-scaling-stroke">e</text>
<text transform="matrix(0.43667,0,0,0.5,286.293,57.2)" font-weight="bold" stroke="#000" stroke-width="0.3" vector-effect="non-scaling-stroke">r</text>
<text transform="matrix(0.46458,0,0,0.5,299.992,57.2)" font-weight="bold" stroke="#000" stroke-width="0.3" vector-effect="non-scaling-stroke">e</text>
<text transform="matrix(0.42800,0,0,0.5,325.238,57.2)" font-weight="bold" stroke="#000" stroke-width="0.3" vector-effect="non-scaling-stroke">q</text>
<text transform="matrix(0.41042,0,0,0.5,347.887,57.2)" font-weight="bold" stroke="#000" stroke-width="0.3" vector-effect="non-scaling-stroke">u</text>
<text transform="matrix(0.40000,0,0,0.5,368.350,57.2)" font-weight="bold" stroke="#000" stroke-width="0.3" vector-effect="non-scaling-stroke">i</text>
<text transform="matrix(0.40667,0,0,0.5,375.903,57.2)" font-weight="bold" stroke="#000" stroke-width="0.3" vector-effect="non-scaling-stroke">r</text>
<text transform="matrix(0.46250,0,0,0.5,390.300,57.2)" font-weight="bold" stroke="#000" stroke-width="0.3" vector-effect="non-scaling-stroke">e</text>
<text transform="matrix(0.41184,0,0,0.5,413.067,57.2)" font-weight="bold" stroke="#000" stroke-width="0.3" vector-effect="non-scaling-stroke">m</text>
<text transform="matrix(0.45625,0,0,0.5,446.925,57.2)" font-weight="bold" stroke="#000" stroke-width="0.3" vector-effect="non-scaling-stroke">e</text>
<text transform="matrix(0.39583,0,0,0.5,470.579,57.2)" font-weight="bold" stroke="#000" stroke-width="0.3" vector-effect="non-scaling-stroke">n</text>
<text transform="matrix(0.38710,0,0,0.5,493.363,57.2)" font-weight="bold" stroke="#000" stroke-width="0.3" vector-effect="non-scaling-stroke">t</text>
<text transform="matrix(0.39149,0,0,0.5,505.084,57.2)" font-weight="bold" stroke="#000" stroke-width="0.3" vector-effect="non-scaling-stroke">s</text>
<text transform="matrix(0.41786,0,0,0.5,525.061,57.2)" font-weight="bold" stroke="#000" stroke-width="0.3" vector-effect="non-scaling-stroke">(</text>
<text transform="matrix(0.40526,0,0,0.5,538.313,57.2)" font-weight="bold" stroke="#000" stroke-width="0.3" vector-effect="non-scaling-stroke">m</text>
<text transform="matrix(0.41184,0,0,0.5,571.867,57.2)" font-weight="bold" stroke="#000" stroke-width="0.3" vector-effect="non-scaling-stroke">m</text>
<text transform="matrix(0.42143,0,0,0.5,608.850,57.2)" font-weight="bold" stroke="#000" stroke-width="0.3" vector-effect="non-scaling-stroke">)</text></g>
</svg>
</body></html>
